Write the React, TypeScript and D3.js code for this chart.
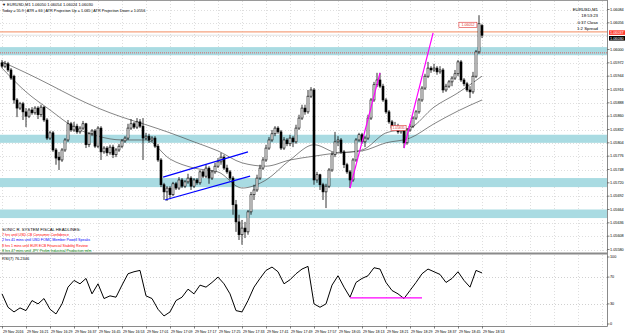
import React from 'react';
import * as d3 from 'd3';

// OHLC, one per minute bar, 29 Nov 2016 16:13 .. 18:53 (EURUSD M1)
const candles: [number, number, number, number][] = [
[1.05972,1.05978,1.05961,1.05965],[1.05965,1.05976,1.05961,1.05970],[1.05970,1.05974,1.05953,1.05957],[1.05957,1.05961,1.05936,1.05940],
[1.05944,1.05947,1.05886,1.05894],[1.05894,1.05898,1.05858,1.05877],[1.05877,1.05890,1.05873,1.05886],[1.05886,1.05890,1.05852,1.05869],
[1.05869,1.05877,1.05837,1.05860],[1.05860,1.05877,1.05856,1.05873],[1.05873,1.05879,1.05863,1.05867],[1.05867,1.05881,1.05863,1.05877],
[1.05877,1.05881,1.05854,1.05863],[1.05863,1.05884,1.05858,1.05879],[1.05879,1.05881,1.05848,1.05852],[1.05852,1.05856,1.05810,1.05814],
[1.05814,1.05829,1.05810,1.05825],[1.05825,1.05829,1.05785,1.05789],[1.05789,1.05793,1.05758,1.05772],[1.05774,1.05785,1.05747,1.05768],
[1.05768,1.05793,1.05764,1.05789],[1.05789,1.05814,1.05785,1.05810],[1.05810,1.05852,1.05806,1.05844],[1.05844,1.05848,1.05827,1.05831],
[1.05831,1.05848,1.05827,1.05839],[1.05839,1.05844,1.05823,1.05827],[1.05827,1.05839,1.05823,1.05835],[1.05835,1.05850,1.05831,1.05844],
[1.05844,1.05846,1.05793,1.05800],[1.05800,1.05827,1.05795,1.05823],[1.05823,1.05833,1.05818,1.05829],[1.05829,1.05833,1.05793,1.05797],
[1.05797,1.05839,1.05793,1.05835],[1.05835,1.05839,1.05768,1.05785],[1.05785,1.05797,1.05781,1.05793],[1.05793,1.05797,1.05776,1.05783],
[1.05783,1.05800,1.05779,1.05795],[1.05795,1.05800,1.05772,1.05779],[1.05779,1.05793,1.05774,1.05789],[1.05789,1.05802,1.05785,1.05797],
[1.05797,1.05812,1.05793,1.05808],[1.05808,1.05818,1.05804,1.05814],[1.05814,1.05844,1.05810,1.05835],[1.05835,1.05854,1.05831,1.05844],
[1.05844,1.05848,1.05833,1.05837],[1.05837,1.05856,1.05833,1.05848],[1.05848,1.05854,1.05835,1.05839],[1.05839,1.05856,1.05768,1.05814],
[1.05814,1.05825,1.05810,1.05818],[1.05818,1.05823,1.05804,1.05810],[1.05810,1.05818,1.05806,1.05814],[1.05814,1.05818,1.05793,1.05797],
[1.05797,1.05802,1.05764,1.05768],[1.05768,1.05772,1.05711,1.05716],[1.05716,1.05720,1.05684,1.05701],[1.05701,1.05713,1.05682,1.05709],
[1.05709,1.05713,1.05688,1.05695],[1.05695,1.05722,1.05692,1.05718],[1.05718,1.05722,1.05705,1.05709],[1.05709,1.05732,1.05705,1.05726],
[1.05726,1.05730,1.05709,1.05713],[1.05713,1.05726,1.05709,1.05722],[1.05722,1.05739,1.05718,1.05730],[1.05730,1.05734,1.05705,1.05713],
[1.05713,1.05730,1.05709,1.05726],[1.05726,1.05730,1.05716,1.05720],[1.05720,1.05747,1.05716,1.05743],[1.05743,1.05747,1.05730,1.05734],
[1.05734,1.05758,1.05730,1.05751],[1.05751,1.05755,1.05718,1.05730],[1.05730,1.05747,1.05726,1.05743],[1.05743,1.05762,1.05739,1.05755],
[1.05755,1.05772,1.05751,1.05764],[1.05764,1.05783,1.05758,1.05774],[1.05774,1.05779,1.05747,1.05751],[1.05751,1.05758,1.05739,1.05743],
[1.05743,1.05747,1.05726,1.05730],[1.05730,1.05734,1.05653,1.05674],[1.05674,1.05684,1.05617,1.05638],[1.05638,1.05653,1.05600,1.05611],
[1.05611,1.05642,1.05590,1.05625],[1.05625,1.05638,1.05604,1.05617],[1.05617,1.05663,1.05611,1.05659],[1.05659,1.05701,1.05653,1.05695],
[1.05695,1.05716,1.05684,1.05705],[1.05705,1.05737,1.05701,1.05730],[1.05730,1.05758,1.05726,1.05751],[1.05751,1.05774,1.05747,1.05768],
[1.05768,1.05800,1.05764,1.05793],[1.05793,1.05816,1.05789,1.05810],[1.05810,1.05831,1.05806,1.05823],[1.05823,1.05839,1.05818,1.05835],
[1.05835,1.05839,1.05823,1.05827],[1.05827,1.05831,1.05789,1.05793],[1.05793,1.05816,1.05789,1.05810],[1.05810,1.05814,1.05797,1.05802],
[1.05802,1.05821,1.05797,1.05814],[1.05814,1.05818,1.05795,1.05806],[1.05806,1.05842,1.05802,1.05835],[1.05835,1.05863,1.05831,1.05856],
[1.05856,1.05884,1.05852,1.05877],[1.05877,1.05884,1.05863,1.05869],[1.05869,1.05915,1.05865,1.05902],[1.05902,1.05921,1.05898,1.05915],
[1.05915,1.05919,1.05716,1.05726],[1.05726,1.05743,1.05720,1.05737],[1.05737,1.05739,1.05705,1.05716],[1.05716,1.05720,1.05684,1.05701],
[1.05701,1.05718,1.05667,1.05713],[1.05713,1.05751,1.05709,1.05747],[1.05747,1.05785,1.05743,1.05779],[1.05779,1.05827,1.05774,1.05806],
[1.05806,1.05818,1.05797,1.05810],[1.05810,1.05814,1.05781,1.05785],[1.05785,1.05789,1.05751,1.05758],[1.05758,1.05762,1.05739,1.05743],
[1.05743,1.05747,1.05709,1.05726],[1.05726,1.05772,1.05722,1.05768],[1.05768,1.05814,1.05764,1.05810],[1.05810,1.05825,1.05806,1.05821],
[1.05821,1.05825,1.05802,1.05806],[1.05806,1.05818,1.05795,1.05814],[1.05814,1.05863,1.05810,1.05856],[1.05856,1.05898,1.05852,1.05894],
[1.05894,1.05932,1.05890,1.05926],[1.05926,1.05951,1.05921,1.05936],[1.05936,1.05951,1.05919,1.05923],[1.05923,1.05928,1.05890,1.05894],
[1.05894,1.05898,1.05865,1.05869],[1.05869,1.05873,1.05844,1.05848],[1.05848,1.05852,1.05831,1.05835],[1.05835,1.05848,1.05831,1.05839],
[1.05839,1.05844,1.05823,1.05827],[1.05827,1.05837,1.05823,1.05831],[1.05831,1.05835,1.05793,1.05804],[1.05804,1.05835,1.05800,1.05831],
[1.05831,1.05844,1.05827,1.05839],[1.05839,1.05860,1.05835,1.05856],[1.05856,1.05873,1.05852,1.05869],[1.05869,1.05898,1.05865,1.05894],
[1.05894,1.05923,1.05890,1.05919],[1.05919,1.05949,1.05915,1.05944],[1.05944,1.05974,1.05940,1.05961],[1.05961,1.05965,1.05951,1.05957],
[1.05957,1.05970,1.05953,1.05961],[1.05961,1.05965,1.05947,1.05953],[1.05953,1.05965,1.05949,1.05957],[1.05957,1.05961,1.05909,1.05915],
[1.05915,1.05928,1.05911,1.05923],[1.05923,1.05936,1.05919,1.05932],[1.05932,1.05944,1.05923,1.05940],[1.05940,1.05957,1.05936,1.05949],
[1.05949,1.05978,1.05944,1.05974],[1.05974,1.05978,1.05932,1.05936],[1.05936,1.05940,1.05923,1.05928],[1.05928,1.05932,1.05911,1.05915],
[1.05915,1.05923,1.05898,1.05911],[1.05911,1.05953,1.05907,1.05944],[1.05944,1.05999,1.05940,1.05995],[1.05995,1.06072,1.05991,1.06054],
[1.06050,1.06054,1.06024,1.06030],
];

const timeLabels = [
  '29 Nov 2016', '29 Nov 16:21', '29 Nov 16:29', '29 Nov 16:37', '29 Nov 16:45', '29 Nov 16:53', '29 Nov 17:01',
  '29 Nov 17:09', '29 Nov 17:17', '29 Nov 17:25', '29 Nov 17:33', '29 Nov 17:41', '29 Nov 17:49', '29 Nov 17:57',
  '29 Nov 18:05', '29 Nov 18:13', '29 Nov 18:21', '29 Nov 18:29', '29 Nov 18:37', '29 Nov 18:45', '29 Nov 18:53',
];
const labelEvery = 8; // bars between time labels

const priceTicks = [1.06084, 1.06056, 1.06028, 1.06000, 1.05972, 1.05944, 1.05916, 1.05888, 1.05860, 1.05832,
  1.05804, 1.05776, 1.05748, 1.05720, 1.05692, 1.05664, 1.05636, 1.05608, 1.05580];

// Moving averages, sampled every 8 bars
const slowMA = [1.05974, 1.05951, 1.05926, 1.05900, 1.05877, 1.05858, 1.05842, 1.05825, 1.05806, 1.05787, 1.05762,
  1.05755, 1.05768, 1.05776, 1.05783, 1.05787, 1.05804, 1.05814, 1.05844, 1.05871, 1.05894];
const fastMA = [1.05961, 1.05911, 1.05873, 1.05837, 1.05818, 1.05810, 1.05810, 1.05770, 1.05751, 1.05743, 1.05709,
  1.05726, 1.05768, 1.05800, 1.05783, 1.05789, 1.05825, 1.05835, 1.05879, 1.05909, 1.05944];

// RSI(7), sampled every 2 bars
const rsi = [45, 25, 18, 24, 20, 35, 30, 38, 22, 15, 30, 55, 65, 60, 68, 45, 60, 38, 42, 40, 58, 75, 78, 80, 42, 38, 22, 12,
  18, 35, 40, 52, 45, 58, 55, 62, 70, 60, 45, 20, 18, 35, 55, 68, 80, 85, 78, 60, 66, 75, 82, 86, 30, 25, 30, 58, 72, 55,
  40, 62, 68, 72, 84, 82, 62, 50, 45, 38, 50, 62, 75, 82, 78, 74, 62, 68, 78, 65, 55, 80, 76.2346];
const rsiLevels = [70, 30];
const rsiTicks = [100, 70, 30, 0];

// support / resistance zones
const zones: [number, number][] = [[1.05988, 1.06005], [1.05804, 1.05821], [1.05711, 1.05730], [1.05646, 1.05664]];
const zoneMidLine = 1.05993;
const alertLine = 1.06037;
const lastPrice = 1.06030;

// trend lines [bar, price, bar, price]
const channelLines: [number, number, number, number][] = [[53.7, 1.05732, 82, 1.05785], [54.3, 1.05684, 82.7, 1.05734]];
const impulseLines: [number, number, number, number][] = [[116, 1.05709, 126, 1.05951], [134, 1.05793, 143.7, 1.06035]];
const rsiLine: [number, number, number, number] = [116, 39, 140, 39];

const headlines = [
  { t: 'SONIC R. SYSTEM  FISCAL HEADLINES:', c: '#000000' },
  { t: '7 hrs until USD CB Consumer Confidence', c: '#ff0000' },
  { t: '2 hrs 41 mins until USD FOMC Member Powell Speaks', c: '#0000ff' },
  { t: '8 hrs 1 mins until EUR ECB Financial Stability Review', c: '#ff0000' },
  { t: '8 hrs 47 mins until JPY Prelim Industrial Production m/m', c: '#008000' },
];

const FONT = 'Liberation Sans, Arial, sans-serif';

export default function App() {
  const W = 625, H = 335;
  const axisX = 607.5;
  const x = d3.scaleLinear().domain([0, 160]).range([2, 482]);
  const y = d3.scaleLinear().domain([1.05580, 1.06084]).range([249.5, 9.5]);
  const yR = d3.scaleLinear().domain([0, 100]).range([324, 257]);

  const maLine = d3.line<number>().x((_, i) => x(i * 8)).y((d) => y(d)).curve(d3.curveMonotoneX);
  const rsiPath = d3.line<number>().x((_, i) => x(i * 2)).y((d) => yR(d));

  const gridXs = d3.range(0, 26).map((k) => x(k * labelEvery));
  const tagYs = [y(alertLine), y(lastPrice) + 2.4];
  const visibleTicks = priceTicks.filter((p) => tagYs.every((ty) => Math.abs(y(p) - ty) > 4.5));

  return (
    <svg width={W} height={H} style={{ position: 'absolute', left: 0, top: 0, background: '#fff' }}
      fontFamily={FONT}>
      <rect x={0} y={0} width={W} height={H} fill="#fff" />
      {/* grid */}
      {gridXs.map((gx, i) => (
        <g key={'gx' + i}>
          <line x1={Math.round(gx) + 0.5} x2={Math.round(gx) + 0.5} y1={1} y2={252} stroke="#c8c8c8" strokeWidth={0.6} strokeDasharray="1,2" />
          <line x1={Math.round(gx) + 0.5} x2={Math.round(gx) + 0.5} y1={255} y2={326} stroke="#c8c8c8" strokeWidth={0.6} strokeDasharray="1,2" />
        </g>
      ))}
      {priceTicks.map((p, i) => (
        <line key={'gy' + i} x1={0} x2={axisX} y1={Math.round(y(p)) + 0.5} y2={Math.round(y(p)) + 0.5}
          stroke="#c8c8c8" strokeWidth={0.6} strokeDasharray="1,2" />
      ))}
      {rsiLevels.map((v) => (
        <line key={'rl' + v} x1={0} x2={axisX} y1={Math.round(yR(v)) + 0.5} y2={Math.round(yR(v)) + 0.5}
          stroke="#b0b0b0" strokeWidth={0.6} strokeDasharray="1,2" />
      ))}

      {/* zones */}
      {zones.map(([a, b], i) => (
        <rect key={'z' + i} x={0} width={axisX} y={y(b)} height={y(a) - y(b)} fill="#a9dbe2" />
      ))}
      <line x1={0} x2={axisX} y1={y(zoneMidLine)} y2={y(zoneMidLine)} stroke="#e05a5a" strokeWidth={0.9} strokeDasharray="1,1" />
      <line x1={0} x2={axisX} y1={y(alertLine)} y2={y(alertLine)} stroke="#f5a27f" strokeWidth={1.4} />
      <line x1={0} x2={axisX} y1={y(lastPrice)} y2={y(lastPrice)} stroke="#d0d0d0" strokeWidth={0.6} />

      {/* moving averages */}
      <path d={maLine(slowMA) || ''} fill="none" stroke="#505050" strokeWidth={0.7} />
      <path d={maLine(fastMA) || ''} fill="none" stroke="#505050" strokeWidth={0.7} />

      {/* candles */}
      {candles.map(([o, h, l, c], i) => {
        const cx = Math.round(x(i));
        const top = y(Math.max(o, c));
        const bot = y(Math.min(o, c));
        const up = c >= o;
        return (
          <g key={'c' + i}>
            <line x1={cx} x2={cx} y1={y(h)} y2={y(l)} stroke="#000" strokeWidth={0.8} />
            <rect x={cx - 1} y={top} width={2} height={Math.max(0.8, bot - top)} fill={up ? '#fff' : '#000'}
              stroke="#000" strokeWidth={0.6} />
          </g>
        );
      })}

      {/* trend lines */}
      {channelLines.map(([a, pa, b, pb], i) => (
        <line key={'ch' + i} x1={x(a)} y1={y(pa)} x2={x(b)} y2={y(pb)} stroke="#0000ff" strokeWidth={1.2} />
      ))}
      {impulseLines.map(([a, pa, b, pb], i) => (
        <line key={'im' + i} x1={x(a)} y1={y(pa)} x2={x(b)} y2={y(pb)} stroke="#ff00ff" strokeWidth={1.2} />
      ))}

      {/* small price tags */}
      <rect x={x(129.7)} y={y(1.05835) - 2.5} width={15} height={5} fill="#fff" stroke="#e03030" strokeWidth={0.6} />
      <text x={x(129.7) + 7.5} y={y(1.05835) + 1.3} fontSize={3.4} fill="#e03030" textAnchor="middle">1.05835</text>
      <rect x={x(152.3)} y={y(1.06052) - 2.5} width={18} height={5.2} fill="#fff" stroke="#e03030" strokeWidth={0.6} />
      <text x={x(152.3) + 9} y={y(1.06052) + 1.4} fontSize={3.6} fill="#e03030" textAnchor="middle">1.06052</text>

      {/* top-left info */}
      <text x={2} y={5.5} fontSize={4}>▼ EURUSD,M1  1.06050 1.06054 1.06024 1.06030</text>
      <text x={2} y={11.5} fontSize={3.8}>Today = 55.9  |  ATR = 66  |  ATR Projection Up = 1.065  |  ATR Projection Down = 1.0556</text>

      {/* top-right info */}
      {['EURUSD,M1', '18:53:23', '0:37 Close', '1:2 Spread'].map((t, i) => (
        <text key={'tr' + i} x={598} y={11 + i * 6.3} fontSize={4.3} textAnchor="end">{t}</text>
      ))}

      {/* headlines */}
      {headlines.map((hl, i) => (
        <text key={'hl' + i} x={2} y={231 + i * 5.2} fontSize={i === 0 ? 4.2 : 3.6} fill={hl.c}>{hl.t}</text>
      ))}

      {/* panel separator */}
      <rect x={0} y={252.5} width={axisX} height={2} fill="#8a8a8a" />

      {/* RSI */}
      <text x={2} y={260} fontSize={4}>RSI(7) 76.2346</text>
      <path d={rsiPath(rsi) || ''} fill="none" stroke="#000" strokeWidth={1} />
      <line x1={x(rsiLine[0])} y1={yR(rsiLine[1])} x2={x(rsiLine[2])} y2={yR(rsiLine[3])} stroke="#ff00ff" strokeWidth={1.2} />

      {/* frame */}
      <line x1={0} x2={axisX} y1={0.5} y2={0.5} stroke="#9a9a9a" strokeWidth={1} />
      <line x1={axisX} x2={axisX} y1={0} y2={326.5} stroke="#8a8a8a" strokeWidth={1} />
      <line x1={0} x2={axisX} y1={326.5} y2={326.5} stroke="#8a8a8a" strokeWidth={1} />

      {/* price axis */}
      {visibleTicks.map((p, i) => (
        <g key={'pt' + i}>
          <line x1={axisX} x2={axisX + 2} y1={y(p)} y2={y(p)} stroke="#000" strokeWidth={0.5} />
          <text x={610} y={y(p) + 1.3} fontSize={3.8}>{p.toFixed(5)}</text>
        </g>
      ))}
      <rect x={609} y={y(alertLine) - 1.6} width={16} height={4.6} fill="#ff3b2f" />
      <text x={610} y={y(alertLine) + 2} fontSize={3.8} fill="#fff">{alertLine.toFixed(5)}</text>
      <rect x={609} y={y(lastPrice) + 0.8} width={16} height={4.6} fill="#000" />
      <text x={610} y={y(lastPrice) + 4.4} fontSize={3.8} fill="#fff">{lastPrice.toFixed(5)}</text>

      {/* RSI axis */}
      {rsiTicks.map((v) => (
        <g key={'rt' + v}>
          <line x1={axisX} x2={axisX + 2} y1={yR(v)} y2={yR(v)} stroke="#000" strokeWidth={0.5} />
          <text x={610} y={yR(v) + 1.3} fontSize={3.8}>{v}</text>
        </g>
      ))}

      {/* time axis */}
      {timeLabels.map((t, i) => {
        const tx = Math.round(x(i * labelEvery)) + 0.5;
        return (
          <g key={'tl' + i}>
            <line x1={tx} x2={tx} y1={326.5} y2={328.5} stroke="#000" strokeWidth={0.5} />
            <text x={tx + 0.5} y={332.5} fontSize={3.6}>{t}</text>
          </g>
        );
      })}
    </svg>
  );
}
